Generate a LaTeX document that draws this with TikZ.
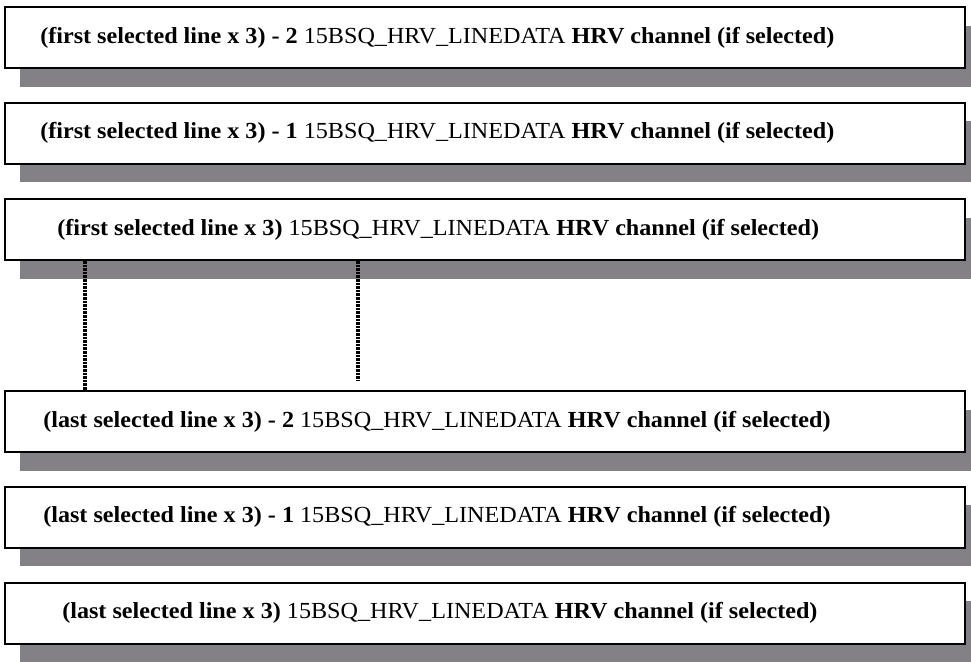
\documentclass[tikz,border=0pt]{standalone}
\usepackage{fontspec}
\setmainfont[FakeStretch=1.05]{Liberation Serif}
\usepackage{tikz}
\usetikzlibrary{shadows}
\definecolor{shadowgray}{RGB}{131,129,133}

\begin{document}
\begin{tikzpicture}[x=0.75pt,y=-0.75pt,
    linebox/.style={rectangle,draw,line width=1.5pt,fill=white,minimum width=720pt,minimum height=45.75pt,
      drop shadow={shadow xshift=11.25pt,shadow yshift=-14pt,fill=shadowgray,opacity=1}},
    lbl/.style={anchor=west,inner sep=0pt,font=\fontsize{17.25}{20}\selectfont},
    gapline/.style={line width=2.4pt,dash pattern=on 2pt off 0.7pt}]

  \useasboundingbox (0,0) rectangle (971,661);

  % the six line records
  \node[linebox] (b1) at (485,37.5) {};
  \node[linebox] (b2) at (485,133) {};
  \node[linebox] (b3) at (485,229.5) {};
  \node[linebox] (b4) at (485,421.5) {};
  \node[linebox] (b5) at (485,517) {};
  \node[linebox] (b6) at (485,613) {};

  % texts
  \node[lbl] (t1) at (40,37.5) {\textbf{(first selected line x 3) - 2} 15BSQ\_HRV\_LINEDATA \textbf{HRV channel (if selected)}};
  \node[lbl] (t2) at (40,133) {\textbf{(first selected line x 3) - 1} 15BSQ\_HRV\_LINEDATA \textbf{HRV channel (if selected)}};
  \node[lbl] (t3) at (57,229.5) {\textbf{(first selected line x 3)} 15BSQ\_HRV\_LINEDATA \textbf{HRV channel (if selected)}};
  \node[lbl] (t4) at (43,421.5) {\textbf{(last selected line x 3) - 2} 15BSQ\_HRV\_LINEDATA \textbf{HRV channel (if selected)}};
  \node[lbl] (t5) at (43,517) {\textbf{(last selected line x 3) - 1} 15BSQ\_HRV\_LINEDATA \textbf{HRV channel (if selected)}};
  \node[lbl] (t6) at (62,613) {\textbf{(last selected line x 3)} 15BSQ\_HRV\_LINEDATA \textbf{HRV channel (if selected)}};

  % dotted gap lines
  \coordinate (d1) at (85,0);
  \coordinate (d2) at (358,0);
  \coordinate (d2end) at (358,380);
  \draw[gapline] (b3.south -| d1) -- (b4.north -| d1);
  \draw[gapline] (b3.south -| d2) -- (d2end);
\end{tikzpicture}
\end{document}
